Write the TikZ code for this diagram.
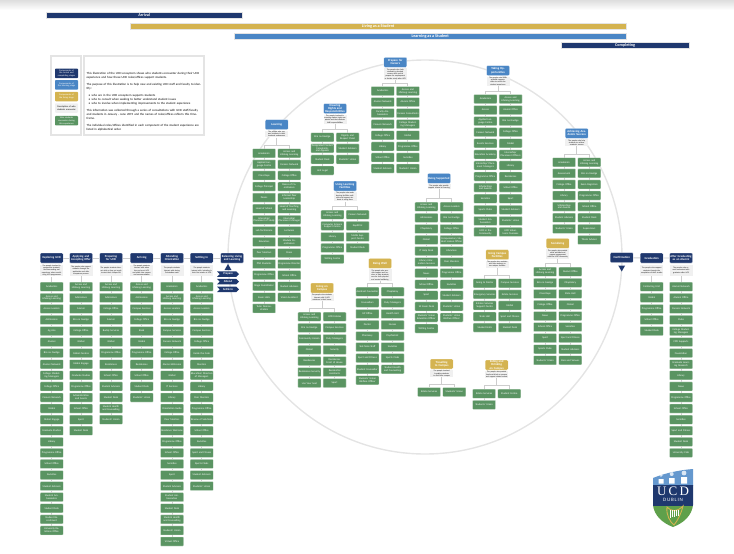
\documentclass[tikz,border=0pt]{standalone}
\usepackage{fontspec}
\setmainfont{Carlito}
\usepackage{tikz}
\usetikzlibrary{positioning,shapes.geometric,shapes.symbols}
\definecolor{navy}{RGB}{31,56,110}
\definecolor{sky}{RGB}{74,134,197}
\definecolor{sand}{RGB}{212,179,80}
\definecolor{leaf}{RGB}{90,148,98}
\definecolor{haze}{RGB}{240,240,240}
\definecolor{wire}{RGB}{205,205,205}
\definecolor{ring}{RGB}{228,228,228}
\definecolor{crestgreen}{RGB}{95,160,75}
% one column of green boxes
\newcommand{\itemcol}[4]{%
  \foreach \txt [count=\k, remember=\k as \j (initially 0)] in {#4} {
    \node (#1\k) [item] at (#2,{#3+(\k-1)*11.08}) {\txt};
    \ifnum\k>1 \draw[link] (#1\j) -- (#1\k); \fi
  }}
% component inside the ring: name, x, y, colour, title, text, first row, left, right
\newcommand{\stagebox}[9]{%
  \node (#1) [header,fill=#4] at (#2,#3) {#5};
  \node (#1d) [desc,below=0.6pt of #1] {#6};
  \coordinate (#1f) at (#2,{#7-8});
  \itemcol{#1L}{#2-12.6}{#7}{#8}
  \itemcol{#1R}{#2+12.6}{#7}{#9}
  \draw[link] (#1d) -- (#1f);
  \draw[link] (#1f) -| (#1L1.north);
  \draw[link] (#1f) -| (#1R1.north);
}
% component on the outer line: name, x, title, text, list
\newcommand{\maincol}[5]{%
  \node (#1) [header,fill=navy] at (#2,258) {#3};
  \node (#1d) [desc,minimum height=11pt] at (#2,270.5) {#4};
  \itemcol{#1L}{#2}{286.7}{#5}
  \draw[link] (#1d) -- (#1L1);
}
\begin{document}
\begin{tikzpicture}[x=1pt,y=-1pt]
  \tikzstyle{item} = [fill=leaf,draw=leaf!25,line width=.3pt,rounded corners=.7pt,text=white,
    minimum width=23pt,minimum height=9pt,text width=22pt,align=center,inner sep=0pt,
    font=\fontsize{2.6}{2.9}\selectfont]
  \tikzstyle{header} = [draw=white,line width=.3pt,rounded corners=1pt,text=white,
    minimum width=23pt,minimum height=10pt,text width=22pt,align=center,inner sep=0pt,
    font=\fontsize{3}{3.3}\selectfont\bfseries]
  \tikzstyle{desc} = [fill=haze,minimum width=23pt,text width=22pt,align=center,inner sep=.5pt,
    font=\fontsize{1.9}{2.25}\selectfont]
  \tikzstyle{link} = [draw=wire,line width=.9pt]
  \tikzstyle{bar} = [draw=ring,line width=.4pt,inner sep=0pt,minimum height=5.6pt,anchor=west,
    font=\color{white}\fontsize{4.2}{4.5}\selectfont\bfseries]
  \tikzstyle{tag} = [signal,signal to=east,signal from=west,fill=navy,text=white,inner sep=0pt,
    minimum width=22pt,minimum height=5.5pt,font=\fontsize{2.9}{3}\selectfont\bfseries]
  \tikzstyle{tri} = [regular polygon,regular polygon sides=3,fill=navy,inner sep=0pt,minimum size=8pt]
  \tikzstyle{key} = [rounded corners=.8pt,minimum width=23pt,text width=22pt,align=center,inner sep=0pt,
    minimum height=9.5pt,font=\fontsize{2.3}{2.7}\selectfont]
  \useasboundingbox (0,0) rectangle (734,554);
  \shade[top color=black!13,bottom color=white] (0,0) rectangle (734,10);
  \draw[ring,line width=1.4pt] (425,257) circle [radius=197pt];

  \node (arrival) [bar,fill=navy,minimum width=196pt] at (46,15.3) {Arrival};
  \node (living) [bar,fill=sand,minimum width=496pt] at (130,26.2) {Living as a Student};
  \node (learning) [bar,fill=sky,minimum width=392pt] at (234,36.2) {Learning as a Student};
  \node (completing) [bar,fill=navy,minimum width=128pt] at (561,45.2) {Completing};

  \draw[ring,line width=1.5pt] (51,56) rectangle (81,135);
  \draw[ring,line width=1.5pt] (84,56) rectangle (204,135);
  \node (keya) [key,fill=navy,text=white] at (66.5,73.3) {Components of the arrival and completing stages};
  \node (keyb) [key,fill=sky,text=white] at (66.5,84.8) {Components of the learning stage};
  \node (keyc) [key,fill=sand,text=white] at (66.5,96.5) {Components of the living stage};
  \node (keyd) [key,fill=haze] at (66.5,108) {Description of who students encounter};
  \node (keye) [key,fill=leaf,text=white] at (66.5,120.7) {Who students encounter during this experience};
  \node (about) [anchor=north west,text width=115pt,inner sep=0pt,font=\fontsize{3.08}{3.85}\selectfont] at (86.5,72.5) {%
    \setlength{\parskip}{3.3pt}\setlength{\parindent}{0pt}%
    This illustration of the UCD ecosystem shows who students encounter during their UCD experience and how these UCD roles/offices support students.\par
    The purpose of this illustration is to help new and existing UCD staff and faculty to identify:\par
    \hspace*{2pt}\textbullet\hspace{1.5pt}who are in the UCD ecosystem supports students\\
    \hspace*{2pt}\textbullet\hspace{1.5pt}who to consult when seeking to better understand student issues\\
    \hspace*{2pt}\textbullet\hspace{1.5pt}who to involve when implementing improvements to the student experience\par
    This information was collected through a series of consultations with UCD staff/faculty and students in January - June 2019 and the names of roles/offices reflects this timeframe.\par
    The individual roles/offices identified in each component of the student experience are listed in alphabetical order.};

  \maincol{explore}{51.7}{Exploring UCD}{The people involved in prospective students' decision-making and experience when considering UCD programmes}
    {Academics,Access and Lifelong Learning,Access Leaders,Admissions,Ag Aire,Alumni,Brú na Gaeilge,Alumni Network,College Marketing Managers,College Office,Careers Network,Global,Global Engage,Graduate Studies,Library,Programme Office,School Office,Societies,Student Advisers,Student Ambassadors,Student Desk,Student Recruitment,University Relations Office}
  \maincol{apply}{81}{Applying and Accepting Offer}{The people who support students through the application and offer acceptance process}
    {Access and Lifelong Learning,Admissions,Alumni,Brú na Gaeilge,College Office,Global,Global Centres,Global Engage,Graduate Studies,Programme Office,Administration and Assets,School Office,Sport,Student Desk}
  \maincol{prepare}{111}{Preparing for UCD}{The people students interact with as they get ready to start their campus life}
    {Access and Lifelong Learning,Admissions,College Office,Alumni,Buddy Services,Global,Programme Office,Residences,School Office,Student Advisers,Student Desk,Student Health and Counselling,Students' Union}
  \maincol{arrive}{141.7}{Arriving}{The people students interact with when they arrive at UCD and settle into campus and accommodation}
    {Access and Lifelong Learning,Admissions,Campus Services,College Office,Bank,Global,Programme Office,Residences,School Office,Student Desk,Students' Union}
  \maincol{orient}{172}{Attending Orientation}{The people students interact with during Orientation week}
    {Academics,Access and Lifelong Learning,Access Leaders,Brú na Gaeilge,Campus Services,Careers Network,College Office,Alumni Welcome,Global,IT Services,Library,Orientation Guide,Peer Mentors,Residence Welcome,Programme Office,School Office,Societies,Sport,Student Advisers,Student Ambassadors,Student Desk,Student Health and Counselling,Students' Union,Virtual Office}
  \maincol{settle}{201.7}{Settling In}{The people students interact with, including in their first weeks at UCD}
    {Academics,Access and Lifelong Learning,Access Leaders,Brú na Gaeilge,Campus Services,College Office,Inside the Gate,Mentors,Education/ Directors of Managers,Library,Peer Mentors,Programme Office,Review of Solutions,School Office,Societies,Sport and Fitness,Sports Clubs,Student Advisers,Students' Union}
  \node (balance) [header,fill=navy] at (232,258) {Balancing Living and Learning};
  \node (balup) [tri] at (228,268) {};
  \node (tagprep) [tag] at (228,274) {Prepare};
  \node (tagatt) [tag] at (228,281.7) {Attend};
  \node (tagset) [tag] at (228,289.3) {Settle In};
  \draw[link] (explore) -- (apply) -- (prepare) -- (arrive) -- (orient) -- (settle) -- (balance);

  \stagebox{learn}{276.7}{124.7}{sky}{Learning}{The people who support students in their academic endeavours}{153.3}
    {Academics,Applied Language Centre,Class Reps,College Principal,Deans,Head of School,Internship/ Placement of Study,Lab Technicians,Educators,Peer Mentors,PhD Students,Programme Office,Stage Coordinator,Exam Halls,Tutor Demonstrators}
    {Access and Lifelong Learning,Careers Network,College Office,Deans of Coordinators,Informal Peer Leadership,Head of Teaching and Learning,Internship/ Placement Manager,Lecturers,Module Coordinators,Peers,Programme Director,School Office,Student Advisers,Vision Assistant}
  \stagebox{rights}{335}{108.7}{sky}{Ensuring Rights and Responsibilities}{The people involved in ensuring student rights are upheld and that students fulfil responsibilities}{137.3}
    {Brú na Gaeilge,Designated Contact Complaints and Appeals,Student Desk,Unit Legal}
    {Dignity and Respect Panel,Student Advisers,Students' Union}
  \stagebox{facil}{345}{186}{sky}{Using Learning Facilities}{The people who make learning facilities available and support students in using them}{214.7}
    {Access and Lifelong Learning,Computer Science Support Centre,Library,Programme Office,Writing Centre}
    {Careers Network,EquiPrint,Maths Support Centre,Student Desk}
  \stagebox{campus}{322}{288}{sand}{Living on Campus}{The people who students interact with if UCD residence is their home}{316.7}
    {Access and Lifelong Learning,Brú na Gaeilge,Community Liaison,Global,Residences,Residences Security,Use Your Seat}
    {UCD Estates,Campus Services,Duty Managers,Security,Residences Front of House,Residential Assistants,Sport}
  \stagebox{well}{380}{263.3}{sand}{Being Well}{The people who provide support and services to help students care for their physical and mental wellbeing}{291.7}
    {Assistant Counsellor,Counsellors,GP Office,Doctor,Pharmacy,Sick Note Staff,Sport and Fitness,Student Counsellor,Students' Union Welfare Officer}
    {Chaplaincy,Duty Managers,Health Unit,Nurses,Psychiatrist,Societies,Sports Clubs,Student Health and Counselling}
  \stagebox{careers}{395.3}{62.3}{sky}{Prepare for Careers}{The people who help students to develop careers skills and to prepare for employment or further study after UCD}{91}
    {Academics,Alumni Network,Faculty Ambassadors,Careers Network,College Office,Library,School Office,Student Advisers}
    {Access and Lifelong Learning,Alumni Office,Careers Consultants,College Marketing Managers,Global,Programme Office,Societies,Students' Union}
  \stagebox{taking}{498}{70.7}{sky}{Taking Opportunities}{The people who make available opportunities to enrich the student experience}{99}
    {Academics,Access,Applied Language Centre,Careers Network,Events Services,Education Academy,Internship/ Placement Managers,Programme Office,Scholarships and Awards,Societies,Sports Clubs,Student Ambassadors,UCD in the Community}
    {Access and Lifelong Learning,Alumni Office,Brú na Gaeilge,College Office,Global,Internship/ Placement Officers,Library,Residences,School Office,Sport,Student Advisers,Students' Union,UCD Volunteers Overseas}
  \stagebox{support}{439}{178.3}{sky}{Being Supported}{The people who provide support related to learning}{206.7}
    {Access and Lifelong Learning,Admissions,Chaplaincy,Global,IT Help Desk,Library Information Services,News,School Office,Sport,Sit Exam Desk,Students' Union Education Officer,Writing Centre}
    {Access Leaders,Brú na Gaeilge,College Office,Compensatory Student Liaison Officer,Librarians,Peer Mentors,Programme Office,Societies,Student Advisers,Students' Union,Students' Union Welfare Officer}
  \stagebox{usefac}{497.3}{254.7}{sand}{Using Campus Facilities}{The people who maintain and help students to use campus facilities}{283.3}
    {Going to Doctor,Emergency Services,Estates Services Support Centre,State Hall,Student Halls}
    {Campus Services,Estate Services,Global,Sport and Fitness,Student Desk}
  \stagebox{travel}{441.7}{364}{sand}{Travelling to Campus}{The people involved in getting students to and from campus}{392}
    {Estate Services}
    {Students' Union}
  \stagebox{eating}{496.7}{365}{sand}{Eating and Drinking on Campus}{The people who provide food and drink on campus and support related events}{393.7}
    {Estate Services,Students' Union}
    {Student Centre}
  \stagebox{achieve}{576.7}{133.3}{sky}{Achieving Academic Success}{The people who help students to achieve academic success}{162.3}
    {Academics,Assessment,College Office,Library,Scholarships and Awards,Student Advisers,Students' Union}
    {Access and Lifelong Learning,Brú na Gaeilge,Exam Registrars,Programme Office,School Office,Student Desk,Supervisors,Thesis Adviser}
  \stagebox{social}{557.7}{243.3}{sand}{Socialising}{The people who provide social activities and support engagement with the UCD community}{271.7}
    {Access and Lifelong Learning,Brú na Gaeilge,Class Reps,College Office,News,School Office,Sport,Sports Clubs,Students' Union}
    {Alumni Office,Chaplaincy,State Hall,Global,Programme Office,Societies,Sport and Fitness,Student Advisers,Bars and Venues}

  \node (confirm) [header,fill=navy] at (621.7,257.7) {Confirmation};
  \node (confirmdown) [tri,shape border rotate=180] at (621.7,267.5) {};
  \maincol{grad}{651.7}{Graduation}{The people who support students through the completion of their studies}
    {Conferring Unit,Global,Programme Office,School Office,Student Desk}
  \maincol{alumni}{681}{After Graduating as an Alumni}{The people who remain connected with graduates after UCD}
    {Alumni Network,Alumni Office,Careers Network,Clubs,College Marketing Managers,CPD Supports,Foundation,Graduate Learning Research,Library,News,Programme Office,School Office,Societies,Sport and Fitness,Student Desk,University Club}
  \draw[link] (confirm) -- (grad) -- (alumni);

  % crest
  \begin{scope}
    \clip (653,478) .. controls (665,473) and (680,470) .. (693,469) -- (693,505)
      .. controls (692,515) and (684,523) .. (673,527) .. controls (662,523) and (654,515) .. (653,505) -- cycle;
    \fill[sky!85!white] (650,465) rectangle (696,486);
    \fill[navy] (650,485) rectangle (696,506);
    \fill[crestgreen] (650,505.5) rectangle (696,530);
    \fill[white] (658.5,479) rectangle (663.5,483.5) (669,478) rectangle (674.5,483.5) (681,477) rectangle (687,483.5);
    \fill[white!80!sky] (661,475) circle [radius=1.8pt] (671.7,474) circle [radius=2pt] (684,473) circle [radius=2.4pt];
  \end{scope}
  \node (crestucd) [text=white,inner sep=0pt,font=\fontsize{13}{13}\selectfont] at (673,491) {\fontspec{Liberation Serif}U\,C\,D};
  \node (crestdublin) [text=white,inner sep=0pt,font=\fontsize{5}{5}\selectfont] at (673,500) {D\,U\,B\,L\,I\,N};
  \draw[sand,line width=.9pt] (667,507) .. controls (672,512) and (677,512) .. (683,506)
    .. controls (681,514) and (678,520) .. (674,525) .. controls (670,522) and (666,515) .. (667,507) -- cycle;
  \foreach \sx in {670,672,674,676,678} \draw[white,line width=.4pt] (\sx,510) -- (\sx,{518-(\sx-670)*.3});
\end{tikzpicture}
\end{document}
